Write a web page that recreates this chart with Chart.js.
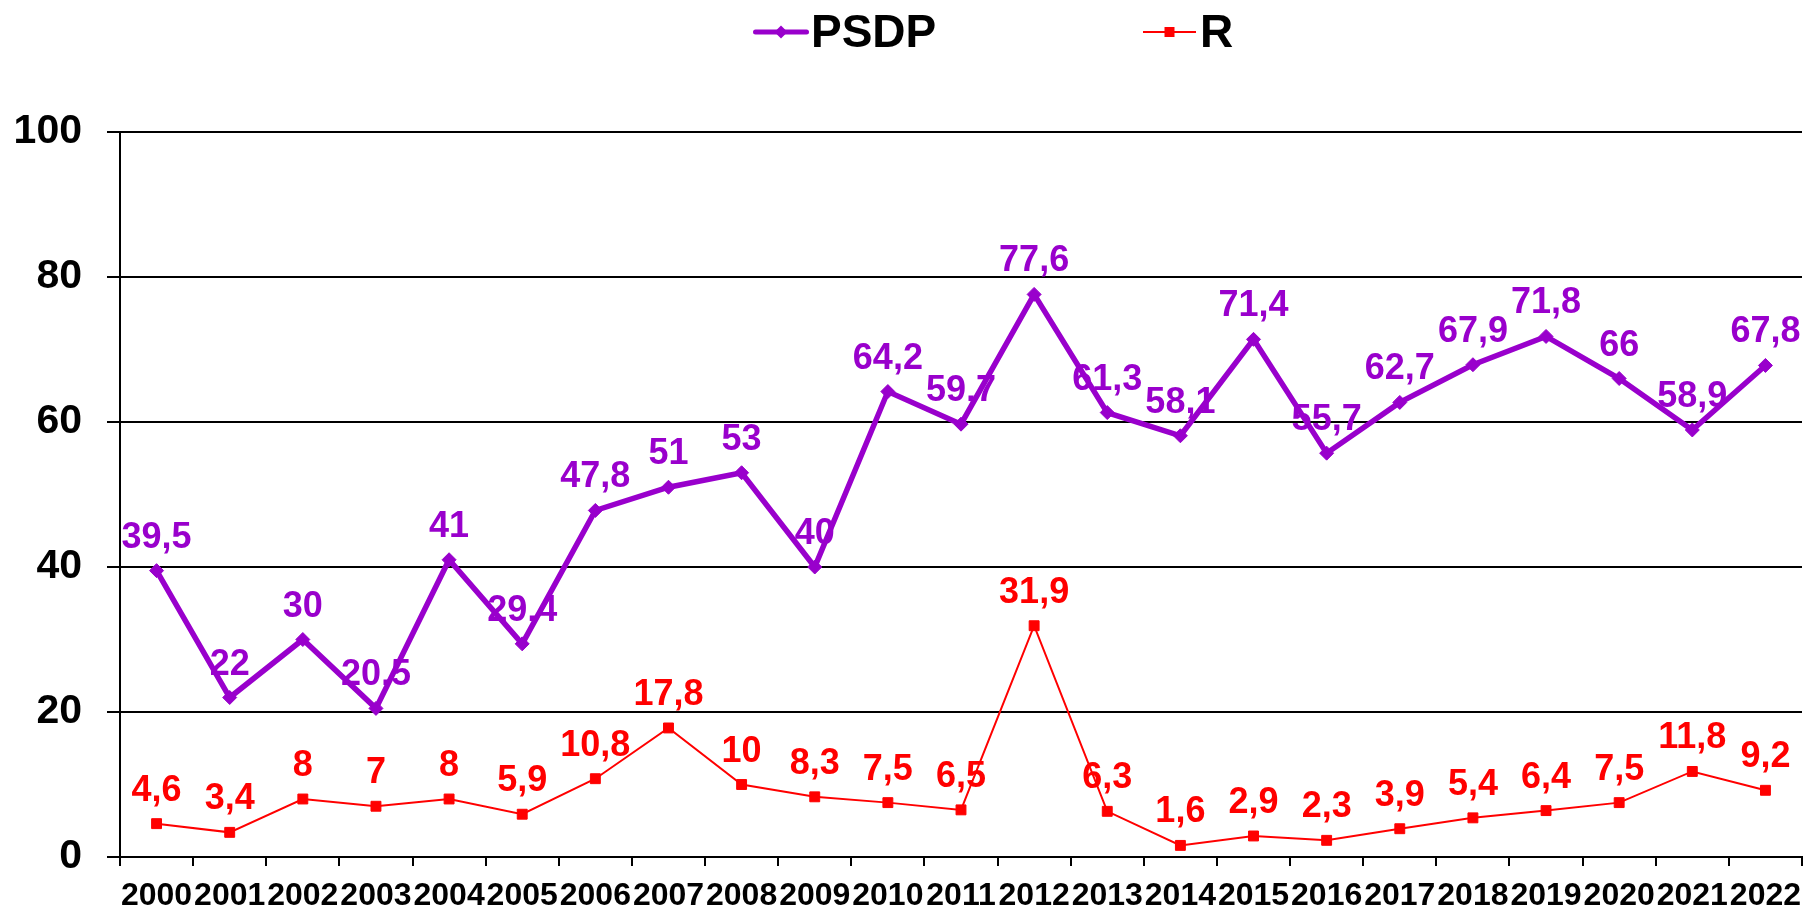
<!DOCTYPE html>
<html>
<head>
<meta charset="utf-8">
<script src="https://cdn.jsdelivr.net/npm/chart.js@4/dist/chart.umd.min.js"></script>
<style>
html,body{margin:0;padding:0;background:#fff;}
#wrap{width:1816px;height:910px;position:relative;}
</style>
</head>
<body>
<div id="wrap"><canvas id="c" width="1816" height="910"></canvas></div>
<script>
const years = ['2000','2001','2002','2003','2004','2005','2006','2007','2008','2009','2010','2011','2012','2013','2014','2015','2016','2017','2018','2019','2020','2021','2022'];
const psdp = [39.5,22,30,20.5,41,29.4,47.8,51,53,40,64.2,59.7,77.6,61.3,58.1,71.4,55.7,62.7,67.9,71.8,66,58.9,67.8];
const rVals = [4.6,3.4,8,7,8,5.9,10.8,17.8,10,8.3,7.5,6.5,31.9,6.3,1.6,2.9,2.3,3.9,5.4,6.4,7.5,11.8,9.2];
const yTicks = [0,20,40,60,80,100];
const seriesNames = ['PSDP','R'];

const PURPLE = '#9900CC';
const RED = '#FF0000';
const SANS = '"Liberation Sans", Arial, sans-serif';

function fmt(v){ return String(v).replace('.', ','); }

const valueLabels = {
  id: 'valueLabels',
  afterDatasetsDraw(chart){
    const ctx = chart.ctx;
    ctx.save();
    ctx.font = 'bold 36px ' + SANS;
    ctx.textAlign = 'center';
    ctx.textBaseline = 'alphabetic';
    chart.data.datasets.forEach((ds, i) => {
      const meta = chart.getDatasetMeta(i);
      ctx.fillStyle = ds.borderColor;
      meta.data.forEach((pt, j) => {
        ctx.fillText(fmt(ds.data[j]), pt.x, pt.y - 23);
      });
    });
    ctx.restore();
  }
};

const topLegend = {
  id: 'topLegend',
  afterDraw(chart){
    const ctx = chart.ctx;
    ctx.save();
    const items = [
      {name: seriesNames[0], color: PURPLE, lw: 5, cap: 'round', x0: 755.5, x1: 806.5, y: 32, marker: 'diamond', tx: 811},
      {name: seriesNames[1], color: RED, lw: 2, cap: 'butt', x0: 1143, x1: 1196, y: 32, marker: 'square', tx: 1200}
    ];
    items.forEach(it => {
      ctx.strokeStyle = it.color;
      ctx.fillStyle = it.color;
      ctx.lineWidth = it.lw;
      ctx.lineCap = it.cap;
      ctx.beginPath();
      ctx.moveTo(it.x0, it.y);
      ctx.lineTo(it.x1, it.y);
      ctx.stroke();
      const cx = (it.x0 + it.x1) / 2;
      ctx.beginPath();
      if (it.marker === 'diamond') {
        ctx.moveTo(cx, it.y - 6.5); ctx.lineTo(cx + 6.5, it.y); ctx.lineTo(cx, it.y + 6.5); ctx.lineTo(cx - 6.5, it.y); ctx.closePath();
      } else {
        ctx.rect(cx - 5, it.y - 5, 10, 10);
      }
      ctx.fill();
      ctx.fillStyle = '#000';
      ctx.font = 'bold 46px ' + SANS;
      ctx.textAlign = 'left';
      ctx.textBaseline = 'alphabetic';
      ctx.fillText(it.name, it.tx, 47);
    });
    ctx.restore();
  }
};

new Chart(document.getElementById('c'), {
  type: 'line',
  data: {
    labels: years,
    datasets: [
      {
        label: seriesNames[0],
        data: psdp,
        borderColor: PURPLE,
        backgroundColor: PURPLE,
        borderWidth: 5.5,
        pointStyle: 'rectRot',
        pointRadius: 7,
        pointBorderWidth: 1,
        tension: 0
      },
      {
        label: seriesNames[1],
        data: rVals,
        borderColor: RED,
        backgroundColor: RED,
        borderWidth: 2,
        pointStyle: 'rect',
        pointRadius: 7,
        pointBorderWidth: 1,
        tension: 0
      }
    ]
  },
  options: {
    responsive: false,
    animation: false,
    events: [],
    layout: { padding: { top: 132, right: 14, left: 0, bottom: 0 } },
    plugins: {
      legend: { display: false },
      tooltip: { enabled: false }
    },
    scales: {
      x: {
        offset: true,
        afterFit(scale){ scale.height = 53; },
        grid: {
          offset: true,
          drawOnChartArea: false,
          drawTicks: true,
          tickLength: 9,
          color: '#000',
          lineWidth: 2
        },
        border: { display: true, color: '#000', width: 2 },
        ticks: {
          color: '#000',
          font: { family: SANS, size: 32, weight: 'bold' },
          maxRotation: 0,
          autoSkip: false,
          padding: 11
        }
      },
      y: {
        min: 0,
        max: 100,
        afterBuildTicks(scale){ scale.ticks = yTicks.map(v => ({value: v})); },
        afterFit(scale){ scale.width = 120; },
        grid: {
          color: '#000',
          lineWidth: 2,
          tickLength: 13,
          drawTicks: true
        },
        border: { display: true, color: '#000', width: 2 },
        ticks: {
          color: '#000',
          font: { family: SANS, size: 41, weight: 'bold' },
          padding: 25
        }
      }
    }
  },
  plugins: [valueLabels, topLegend]
});
</script>
</body>
</html>
